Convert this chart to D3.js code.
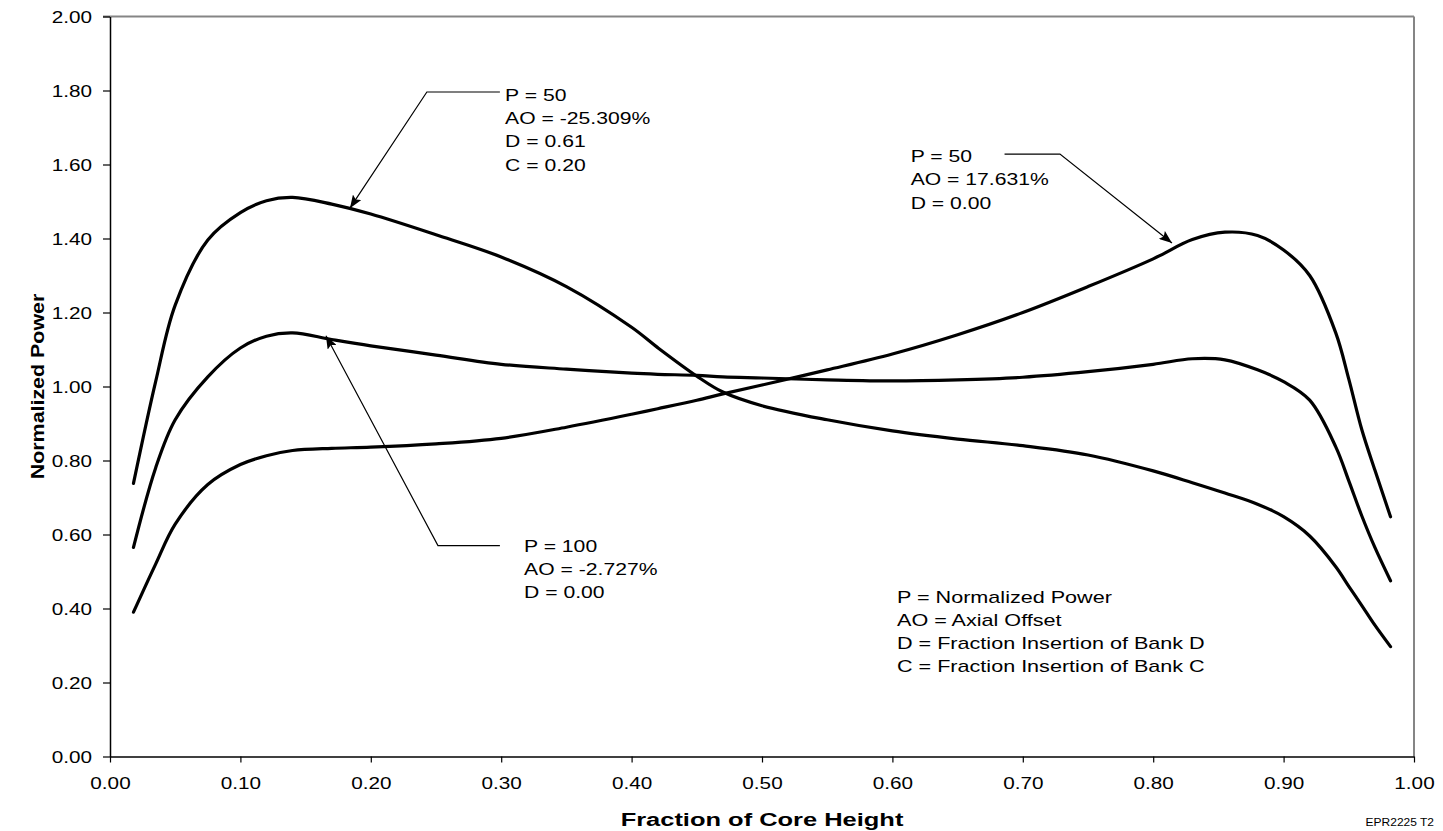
<!DOCTYPE html>
<html>
<head>
<meta charset="utf-8">
<script src="https://cdn.jsdelivr.net/npm/d3@7"></script>
<style>
  html, body { margin: 0; padding: 0; background: #fff; }
  svg { display: block; font-family: "Liberation Sans", Arial, sans-serif; }
</style>
</head>
<body>
<svg id="chart" width="1443" height="831"></svg>
<script>
// Axial power shapes: normalized power vs. fraction of core height
const coreHeight = [0.018, 0.035, 0.05, 0.075, 0.10, 0.12, 0.14, 0.17, 0.20, 0.25, 0.30, 0.35,
  0.40, 0.42, 0.45, 0.47, 0.50, 0.55, 0.60, 0.65, 0.70, 0.75, 0.80, 0.83, 0.855, 0.88,
  0.90, 0.92, 0.94, 0.95, 0.96, 0.97, 0.982];

// P = 50, AO = -25.309%, D = 0.61, C = 0.20
const powerP50Bottom = [0.738, 1.013, 1.22, 1.396, 1.47, 1.502, 1.511, 1.493, 1.466, 1.41, 1.35, 1.27,
  1.16, 1.105, 1.028, 0.985, 0.948, 0.91, 0.88, 0.858, 0.84, 0.815, 0.772, 0.74, 0.712, 0.682,
  0.648, 0.596, 0.513, 0.46, 0.408, 0.355, 0.297];

// P = 100, AO = -2.727%, D = 0.00
const powerP100 = [0.565, 0.78, 0.91, 1.026, 1.104, 1.136, 1.145, 1.127, 1.11, 1.085, 1.06, 1.047,
  1.036, 1.033, 1.03, 1.026, 1.023, 1.018, 1.015, 1.018, 1.025, 1.04, 1.06, 1.075, 1.072, 1.045,
  1.013, 0.963, 0.837, 0.745, 0.65, 0.565, 0.475];

// P = 50, AO = 17.631%, D = 0.00
const powerP50Top = [0.39, 0.52, 0.628, 0.735, 0.789, 0.813, 0.827, 0.833, 0.836, 0.845, 0.86, 0.89,
  0.925, 0.94, 0.963, 0.98, 1.004, 1.045, 1.088, 1.14, 1.20, 1.27, 1.345, 1.397, 1.417, 1.408,
  1.369, 1.30, 1.145, 1.02, 0.883, 0.774, 0.648];

const xTicks = [0, 0.1, 0.2, 0.3, 0.4, 0.5, 0.6, 0.7, 0.8, 0.9, 1.0];
const yTicks = [0, 0.2, 0.4, 0.6, 0.8, 1.0, 1.2, 1.4, 1.6, 1.8, 2.0];

const seriesList = [powerP50Bottom, powerP100, powerP50Top];

// Callout labels and the abbreviation key
const calloutText = [
  ["P = 50", "AO = -25.309%", "D = 0.61", "C = 0.20"],
  ["P = 50", "AO = 17.631%", "D = 0.00"],
  ["P = 100", "AO = -2.727%", "D = 0.00"]
];
const legendLines = ["P = Normalized Power", "AO = Axial Offset",
  "D = Fraction Insertion of Bank D", "C = Fraction Insertion of Bank C"];

// Layout
const margin = { left: 110, right: 29, top: 16.5, bottom: 74.5 };
const W = 1443, H = 831;
const TEXT_STRETCH = 1.22;   // wide-set lettering
const svg = d3.select("#chart");

const x = d3.scaleLinear().domain([0, 1]).range([margin.left, W - margin.right]);
const y = d3.scaleLinear().domain([0, 2]).range([H - margin.bottom, margin.top]);

// Places a (possibly multi-line) text block with horizontal stretch
function stretchedText(px, py, lines, size, lineGap, opts = {}) {
  const t = svg.append("text")
    .attr("transform", `translate(${px},${py}) ${opts.rotate ? `rotate(${opts.rotate})` : ""} scale(${opts.stretch || TEXT_STRETCH},1)`)
    .attr("text-anchor", opts.anchor || "start")
    .style("font-size", size + "px")
    .style("font-weight", opts.bold ? "bold" : "normal");
  lines.forEach((s, i) => t.append("tspan").attr("x", 0).attr("dy", i === 0 ? 0 : lineGap).text(s));
  return t;
}

// Frame: grey top/right edges
svg.append("line").attr("x1", x(0) - 7).attr("x2", x(1)).attr("y1", y(2)).attr("y2", y(2))
  .attr("stroke", "#858585").attr("stroke-width", 2);
svg.append("line").attr("x1", x(1)).attr("x2", x(1)).attr("y1", y(2)).attr("y2", y(0))
  .attr("stroke", "#858585").attr("stroke-width", 2);

const fmt = d3.format(".2f");

const xAxis = svg.append("g").attr("transform", `translate(0,${y(0)})`)
  .call(d3.axisBottom(x).tickValues(xTicks).tickFormat(fmt).tickSize(6).tickSizeOuter(0));
const yAxis = svg.append("g").attr("transform", `translate(${x(0)},0)`)
  .call(d3.axisLeft(y).tickValues(yTicks).tickFormat(fmt).tickSize(7).tickSizeOuter(0));

[xAxis, yAxis].forEach(g => {
  g.select(".domain").attr("stroke", "#000").attr("stroke-width", 1.5);
  g.selectAll(".tick line").attr("stroke", "#000").attr("stroke-width", 1.2);
  g.selectAll(".tick text").attr("fill", "#000")
    .style("font-family", "'Liberation Sans', Arial, sans-serif").style("font-size", "17px")
    .attr("transform", `scale(${TEXT_STRETCH},1)`);
});
xAxis.selectAll(".tick text").attr("y", 32.5).attr("dy", 0);
yAxis.selectAll(".tick text").attr("x", -18 / TEXT_STRETCH).attr("dy", "0.36em");

// Axis titles
stretchedText((x(0) + x(1)) / 2, 826, ["Fraction of Core Height"], 19, 0, { bold: true, anchor: "middle", stretch: 1.34 });
stretchedText(44, (y(0) + y(2)) / 2, ["Normalized Power"], 18, 0, { bold: true, anchor: "middle", rotate: -90, stretch: 1.19 });
stretchedText(1434, 826, ["EPR2225 T2"], 10, 0, { anchor: "end", stretch: 1.2 });

// Curves
const line = d3.line()
  .x((d, i) => x(coreHeight[i]))
  .y(d => y(d))
  .curve(d3.curveCatmullRom.alpha(0.5));

svg.append("g").selectAll("path").data(seriesList).join("path")
  .attr("d", line)
  .attr("fill", "none").attr("stroke", "#000").attr("stroke-width", 3.2)
  .attr("stroke-linecap", "round").attr("stroke-linejoin", "round");

// Arrow marker
svg.append("defs").append("marker")
  .attr("id", "arrowhead").attr("viewBox", "0 0 13 10")
  .attr("refX", 13).attr("refY", 5)
  .attr("markerWidth", 13).attr("markerHeight", 10)
  .attr("markerUnits", "userSpaceOnUse")
  .attr("orient", "auto")
  .append("path").attr("d", "M0,0 L13,5 L0,10 L2.5,5 Z").attr("fill", "#000");

// Callouts: leader from text to elbow to arrow tip on curve (data units)
const callouts = [
  { text: calloutText[0], tx: 0.303, ty: 1.772, lead: [[0.299, 1.796], [0.243, 1.796], [0.184, 1.482]] },
  { text: calloutText[1], tx: 0.614, ty: 1.607, lead: [[0.686, 1.628], [0.7285, 1.628], [0.8144, 1.388]] },
  { text: calloutText[2], tx: 0.3175, ty: 0.553, lead: [[0.299, 0.570], [0.2515, 0.570], [0.1656, 1.137]] }
];

callouts.forEach(c => {
  svg.append("path")
    .attr("d", d3.line()(c.lead.map(p => [x(p[0]), y(p[1])])))
    .attr("fill", "none").attr("stroke", "#000").attr("stroke-width", 1.2)
    .attr("marker-end", "url(#arrowhead)");
  stretchedText(x(c.tx), y(c.ty), c.text, 17, 23.3, { stretch: 1.245 });
});

// Key of abbreviations
stretchedText(897, 603, legendLines, 17, 23, { stretch: 1.27 });
</script>
</body>
</html>
